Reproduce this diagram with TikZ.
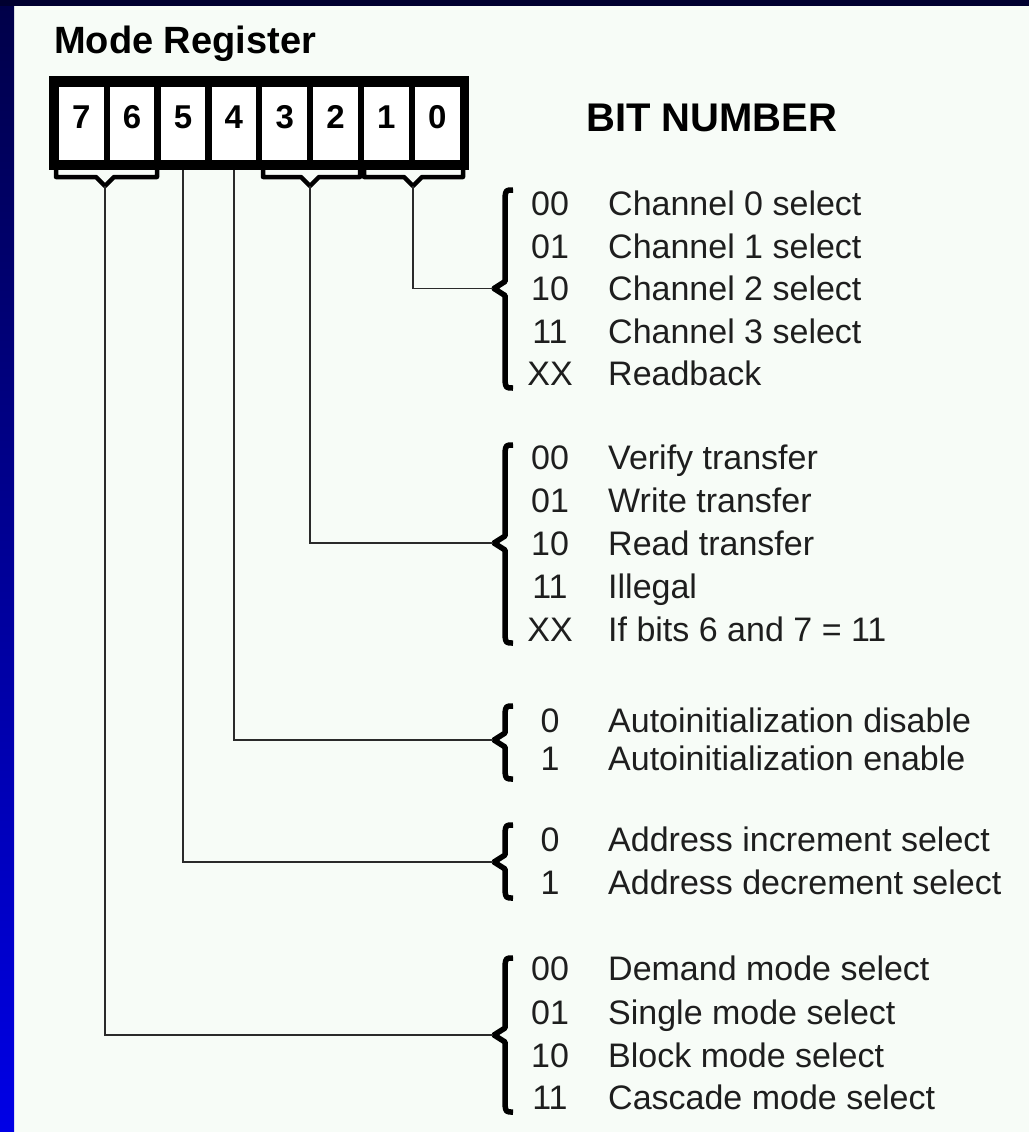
\documentclass[tikz,border=0pt]{standalone}
\usepackage{fontspec}
\setmainfont{Liberation Sans}
\usetikzlibrary{calc}
\definecolor{pagebg}{HTML}{F7FCF7}
\definecolor{navytop}{HTML}{000030}
\definecolor{stripdark}{HTML}{000048}
\definecolor{stripbright}{HTML}{0000E6}
\definecolor{ink}{HTML}{1E1E1E}
\definecolor{wirec}{HTML}{2A2A2A}

% bracket under a pair of bits: name, left x, middle x, right x
\newcommand\bitbrace[4]{%
  \draw[ubr] (#2,166) -- (#2,177) -- (#3-9,177) -- (#3,186) -- (#3+9,177) -- (#4,177) -- (#4,166);
  \coordinate (#1) at (#3,186);
}
% curly brace in front of an option list: name, top y, tip y, bottom y
\newcommand\optbrace[4]{%
  \draw[rbr] (513,#2) .. controls (506,#2) .. (505,#2+7) -- (505,#3-7) -- (494,#3)
     -- (505,#3+7) -- (505,#4-7) .. controls (506,#4) .. (513,#4);
  \coordinate (#1) at (493,#3);
}

\begin{document}
\begin{tikzpicture}[x=1pt,y=-1pt,
  cell/.style={fill=white, draw=none, minimum width=44.5pt, minimum height=73pt,
    inner sep=0pt, text=black, font=\fontsize{33}{33}\selectfont\bfseries,
    text height=24pt, text depth=14pt},
  code/.style={anchor=base, inner sep=0pt, text=ink, font=\fontsize{34}{34}\selectfont},
  desc/.style={anchor=base west, inner sep=0pt, text=ink, font=\fontsize{34}{34}\selectfont},
  heading/.style={anchor=base west, inner sep=0pt, text=black, font=\fontsize{#1}{#1}\selectfont\bfseries},
  ubr/.style={line width=4.5pt, line join=round, line cap=round, draw=black},
  rbr/.style={line width=5.5pt, line join=round, draw=black},
  wire/.style={line width=1.6pt, draw=wirec}
]
\useasboundingbox (0,0) rectangle (1029,1132);

% page and frame
\fill[pagebg] (0,0) rectangle (1029,1132);
\shade[top color=stripdark, bottom color=stripbright] (0,0) rectangle (14,1132);
\fill[navytop] (0,0) rectangle (1029,6);

% title and caption
\node[heading=38] (title) at (54,53) {Mode Register};
\node[heading=40] (bitnum) at (586,131) {BIT NUMBER};

% the register
\node[fill=black, minimum width=420pt, minimum height=94pt, inner sep=0pt] (reg) at (258.5,123) {};
\node[cell] (b7) at (81.25,123.5) {7};
\node[cell] (b6) at (132.1,123.5) {6};
\node[cell] (b5) at (183.0,123.5) {5};
\node[cell] (b4) at (233.8,123.5) {4};
\node[cell] (b3) at (284.7,123.5) {3};
\node[cell] (b2) at (335.6,123.5) {2};
\node[cell] (b1) at (386.4,123.5) {1};
\node[cell] (b0) at (437.3,123.5) {0};

% brackets grouping bit pairs
\bitbrace{u76}{56}{105}{157}
\bitbrace{u32}{263}{310}{360}
\bitbrace{u10}{364}{413}{463}

% option groups
\optbrace{g1}{190}{288.5}{388}
\optbrace{g2}{445}{543}{643}
\optbrace{g3}{706}{740}{779}
\optbrace{g4}{825}{862}{898}
\optbrace{g5}{958}{1035}{1112}

% bits 1-0
\node[code] (c1a) at (550,215.5) {00}; \node[desc] (d1a) at (608,215.5) {Channel 0 select};
\node[code] (c1b) at (550,258) {01}; \node[desc] (d1b) at (608,258) {Channel 1 select};
\node[code] (c1c) at (550,300.5) {10}; \node[desc] (d1c) at (608,300.5) {Channel 2 select};
\node[code] (c1d) at (550,343) {11}; \node[desc] (d1d) at (608,343) {Channel 3 select};
\node[code] (c1e) at (550,385.5) {XX}; \node[desc] (d1e) at (608,385.5) {Readback};

% bits 3-2
\node[code] (c2a) at (550,469.5) {00}; \node[desc] (d2a) at (608,469.5) {Verify transfer};
\node[code] (c2b) at (550,512.5) {01}; \node[desc] (d2b) at (608,512.5) {Write transfer};
\node[code] (c2c) at (550,555.5) {10}; \node[desc] (d2c) at (608,555.5) {Read transfer};
\node[code] (c2d) at (550,598.5) {11}; \node[desc] (d2d) at (608,598.5) {Illegal};
\node[code] (c2e) at (550,641.5) {XX}; \node[desc] (d2e) at (608,641.5) {If bits 6 and 7 = 11};

% bit 4
\node[code] (c3a) at (550,732) {0}; \node[desc] (d3a) at (608,732) {Autoinitialization disable};
\node[code] (c3b) at (550,770) {1}; \node[desc] (d3b) at (608,770) {Autoinitialization enable};

% bit 5
\node[code] (c4a) at (550,851) {0}; \node[desc] (d4a) at (608,851) {Address increment select};
\node[code] (c4b) at (550,894) {1}; \node[desc] (d4b) at (608,894) {Address decrement select};

% bits 7-6
\node[code] (c5a) at (550,980.5) {00}; \node[desc] (d5a) at (608,980.5) {Demand mode select};
\node[code] (c5b) at (550,1024) {01}; \node[desc] (d5b) at (608,1024) {Single mode select};
\node[code] (c5c) at (550,1067) {10}; \node[desc] (d5c) at (608,1067) {Block mode select};
\node[code] (c5d) at (550,1109.5) {11}; \node[desc] (d5d) at (608,1109.5) {Cascade mode select};

% connections from the register fields to their option lists
\draw[wire] (u10) |- (g1);
\draw[wire] (u32) |- (g2);
\draw[wire] (b4 |- reg.south) |- (g3);
\draw[wire] (b5 |- reg.south) |- (g4);
\draw[wire] (u76) |- (g5);
\end{tikzpicture}
\end{document}
